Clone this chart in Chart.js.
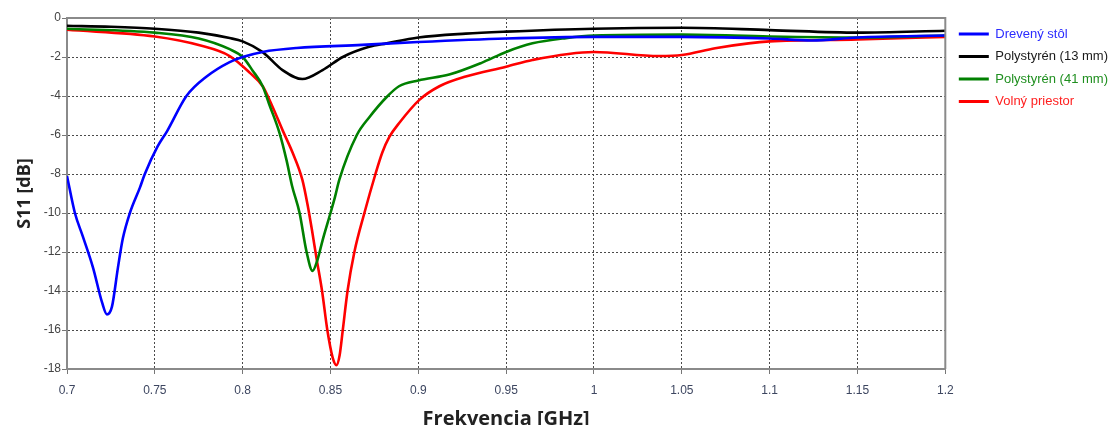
<!DOCTYPE html>
<html>
<head>
<meta charset="utf-8">
<script src="https://cdn.jsdelivr.net/npm/chart.js@4/dist/chart.umd.min.js"></script>
<style>
  html, body { margin: 0; padding: 0; background: #fff; }
  #wrap { width: 1114px; height: 425px; }
</style>
</head>
<body>
<div id="wrap"><canvas id="graf" width="1114" height="425"></canvas></div>
<script>
// nazvy kriviek
var nazvy = ['Drevený stôl', 'Polystyrén (13 mm)', 'Polystyrén (41 mm)', 'Volný priestor'];
var farby = ['#0000ff', '#000000', '#008000', '#ff0000'];
var farbyTextu = ['#2b2bff', '#1a1a1a', '#1f8f1f', '#ff2020'];

// Drevený stôl
var fDrevo = [0.700, 0.7045, 0.709, 0.7148, 0.720, 0.7227, 0.7256, 0.729, 0.7318, 0.7358, 0.7415, 0.7443, 0.7515, 0.757, 0.768, 0.7795, 0.7926, 0.800, 0.8114, 0.8307, 0.868, 0.900, 0.950, 1.000, 1.050, 1.100, 1.124, 1.150, 1.200];
var sDrevo = [-8.1, -10.0, -11.2, -12.8, -14.6, -15.2, -14.8, -12.8, -11.3, -10.0, -8.7, -8.0, -6.6, -5.8, -4.0, -3.0, -2.26, -2.0, -1.74, -1.54, -1.38, -1.23, -1.05, -0.97, -0.97, -1.05, -1.15, -1.0, -0.9];

// Polystyrén 13 mm
var fPoly13 = [0.700, 0.725, 0.750, 0.775, 0.7926, 0.800, 0.8114, 0.8227, 0.834, 0.8455, 0.857, 0.872, 0.882, 0.900, 0.927, 0.950, 1.000, 1.050, 1.100, 1.150, 1.200];
var sPoly13 = [-0.40, -0.45, -0.55, -0.75, -1.03, -1.2, -1.75, -2.67, -3.13, -2.67, -2.0, -1.48, -1.3, -1.0, -0.8, -0.7, -0.55, -0.5, -0.62, -0.75, -0.65];

// Polystyrén 41 mm
var fPoly41 = [0.700, 0.750, 0.775, 0.7926, 0.800, 0.8057, 0.8114, 0.815, 0.821, 0.825, 0.8281, 0.8324, 0.8364, 0.8398, 0.8426, 0.8455, 0.850, 0.8525, 0.855, 0.865, 0.872, 0.882, 0.889, 0.900, 0.9176, 0.936, 0.950, 0.965, 0.984, 1.000, 1.050, 1.100, 1.150, 1.200];
var sPoly41 = [-0.55, -0.75, -1.05, -1.6, -2.0, -2.7, -3.5, -4.4, -5.9, -7.3, -8.6, -10.0, -12.0, -12.97, -12.4, -11.4, -10.0, -9.2, -8.3, -6.0, -5.1, -4.05, -3.5, -3.2, -2.9, -2.3, -1.74, -1.3, -1.03, -0.9, -0.85, -0.95, -1.0, -0.9];

// Volný priestor
var fVolny = [0.700, 0.750, 0.7755, 0.7926, 0.804, 0.8114, 0.817, 0.8227, 0.8284, 0.834, 0.837, 0.8395, 0.842, 0.8452, 0.8482, 0.8512, 0.8534, 0.8552, 0.857, 0.8597, 0.8636, 0.8693, 0.8756, 0.8795, 0.8835, 0.889, 0.9006, 0.912, 0.927, 0.950, 0.965, 1.000, 1.037, 1.050, 1.069, 1.088, 1.100, 1.150, 1.200];
var sVolny = [-0.6, -0.95, -1.4, -1.95, -2.8, -3.5, -4.55, -5.75, -6.9, -8.3, -9.6, -10.9, -12.3, -14.0, -16.0, -17.4, -17.8, -17.3, -16.0, -14.0, -12.0, -10.0, -8.0, -6.9, -6.1, -5.4, -4.2, -3.5, -3.0, -2.5, -2.15, -1.74, -1.95, -1.9, -1.55, -1.3, -1.2, -1.1, -0.97];

var frekvencie = [fDrevo, fPoly13, fPoly41, fVolny];
var hodnoty = [sDrevo, sPoly13, sPoly41, sVolny];

//spojime frekvencie a hodnoty do bodov
function body(f, s){
	var tab = new Array(f.length);
	for(let i = 0 ; i < f.length ; i++){
		tab[i] = {x : f[i], y : s[i]};
	}
	return tab;
}

var datasets = [];
for(let i = 0 ; i < nazvy.length ; i++){
	datasets.push({
		label : nazvy[i],
		data : body(frekvencie[i], hodnoty[i]),
		borderColor : farby[i],
		backgroundColor : farby[i],
		borderWidth : 2.6,
		pointRadius : 0,
		cubicInterpolationMode : 'monotone',
		fill : false
	});
}

//ram okolo grafu (horna a prava strana) + posun legendy
var ram = {
	id : 'ram',
	afterLayout(chart){
		if(chart.legend){
			chart.legend.left += 4;
			chart.legend.right += 4;
		}
	},
	afterDraw(chart){
		var a = chart.chartArea;
		var ctx = chart.ctx;
		ctx.save();
		ctx.strokeStyle = '#8a8a8a';
		ctx.lineWidth = 2;
		ctx.beginPath();
		ctx.moveTo(a.left, a.top);
		ctx.lineTo(a.right, a.top);
		ctx.lineTo(a.right, a.bottom);
		ctx.stroke();
		ctx.restore();
	}
};

var ctx = document.getElementById('graf').getContext('2d');
var graf = new Chart(ctx, {
	type : 'line',
	data : { datasets : datasets },
	plugins : [ram],
	options : {
		responsive : false,
		animation : false,
		layout : { padding : { top : 18, right : 0, left : 0, bottom : 0 } },
		plugins : {
			tooltip : { enabled : false },
			legend : {
				position : 'right',
				align : 'start',
				labels : {
					boxWidth : 30,
					boxHeight : 3,
					padding : 9.5,
					font : { family : 'Liberation Sans', size : 13 },
					generateLabels(chart){
						var items = Chart.defaults.plugins.legend.labels.generateLabels(chart);
						items.forEach(function(it, i){
							it.fontColor = farbyTextu[i];
							it.lineWidth = 0;
							it.fillStyle = farby[i];
						});
						return items;
					}
				}
			}
		},
		scales : {
			x : {
				type : 'linear',
				min : 0.7,
				max : 1.2,
				ticks : {
					stepSize : 0.05,
					padding : 9,
					color : '#3d4660',
					font : { family : 'Liberation Sans', size : 12 },
					callback : function(v){ return String(Math.round(v * 100) / 100); }
				},
				grid : {
					color : '#4a4a4a',
					tickLength : 5,
					tickColor : '#777'
				},
				border : { display : true, color : '#8a8a8a', width : 2, dash : [2, 2] },
				title : {
					display : true,
					text : 'Frekvencia [GHz]',
					color : '#222',
					font : { family : 'Open Sans', size : 20, weight : 'bold', lineHeight : 1.0 },
					padding : { top : 0, bottom : -4.5 }
				},
				afterFit : function(scale){ scale.height = 56; }
			},
			y : {
				min : -18,
				max : 0,
				ticks : {
					stepSize : 2,
					padding : 1,
					color : '#444',
					font : { family : 'Liberation Sans', size : 12 }
				},
				grid : {
					color : '#4a4a4a',
					tickLength : 5,
					tickColor : '#777'
				},
				border : { display : true, color : '#8a8a8a', width : 2, dash : [2, 2] },
				title : {
					display : true,
					text : 'S11 [dB]',
					color : '#222',
					font : { family : 'Open Sans', size : 18, weight : 'bold', lineHeight : 1.0 },
					padding : { top : 16, bottom : 0 }
				},
				afterFit : function(scale){ scale.width = 67; }
			}
		}
	}
});
</script>
</body>
</html>
